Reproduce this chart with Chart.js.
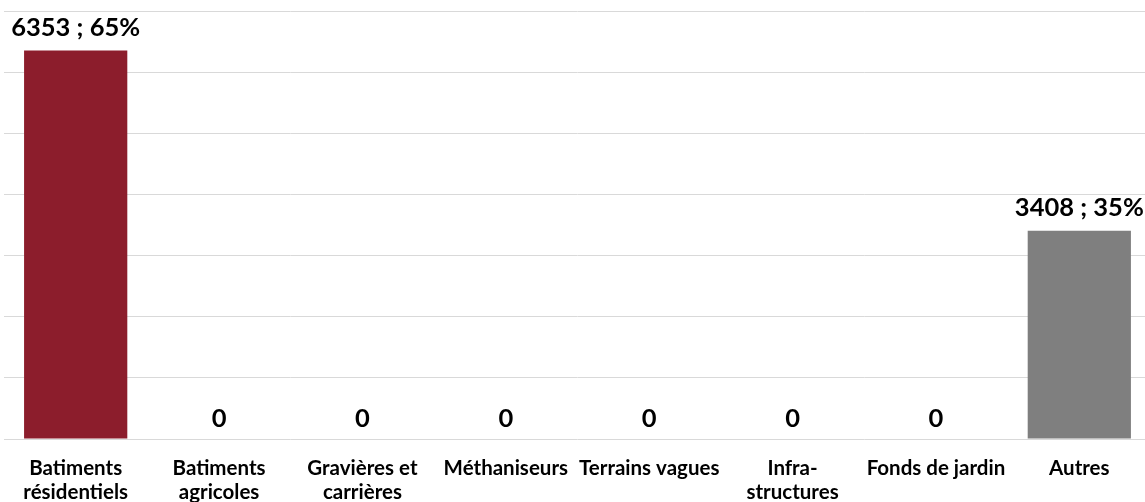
<!DOCTYPE html>
<html>
<head>
<meta charset="utf-8">
<script src="https://cdn.jsdelivr.net/npm/chart.js@4"></script>
<style>
  html, body { margin: 0; padding: 0; background: #fff; overflow: hidden; }
  #wrap { width: 1152px; height: 502px; position: relative; }
</style>
</head>
<body>
<div id="wrap"><canvas id="chart"></canvas></div>
<script>
const categories = [
  ['Batiments', 'résidentiels'],
  ['Batiments', 'agricoles'],
  ['Gravières et', 'carrières'],
  'Méthaniseurs',
  'Terrains vagues',
  ['Infra-', 'structures'],
  'Fonds de jardin',
  'Autres'
];
const values = [6353, 0, 0, 0, 0, 0, 0, 3408];
const barColors = ['#8c1d2c', '#8c1d2c', '#8c1d2c', '#8c1d2c', '#8c1d2c', '#8c1d2c', '#8c1d2c', '#7f7f7f'];

const total = values.reduce((a, b) => a + b, 0);

// draws "value ; pct%" above each bar
const valueLabels = {
  id: 'valueLabels',
  afterDatasetsDraw(chart) {
    const ctx = chart.ctx;
    const meta = chart.getDatasetMeta(0);
    ctx.save();
    ctx.font = 'bold 25.5px Lato';
    ctx.fillStyle = '#000';
    ctx.textAlign = 'center';
    ctx.textBaseline = 'alphabetic';
    meta.data.forEach((bar, i) => {
      const v = values[i];
      const txt = v ? v + ' ; ' + Math.round(v / total * 100) + '%' : '0';
      ctx.fillText(txt, bar.x, bar.y - (v ? 15 : 12));
    });
    ctx.restore();
  }
};

new Chart(document.getElementById('chart'), {
  type: 'bar',
  data: {
    labels: categories,
    datasets: [{
      data: values,
      backgroundColor: barColors,
      categoryPercentage: 1,
      barPercentage: 0.72
    }]
  },
  options: {
    responsive: true,
    maintainAspectRatio: false,
    animation: false,
    layout: { padding: { top: 11, left: 4, right: 1, bottom: 0 } },
    plugins: { legend: { display: false }, tooltip: { enabled: false } },
    scales: {
      x: {
        grid: { display: false, drawTicks: false },
        border: { display: false },
        ticks: {
          color: '#000',
          font: { family: 'Lato', size: 20.5, weight: 'bold', lineHeight: 1.17 },
          padding: 17,
          maxRotation: 0,
          autoSkip: false
        },
        afterFit: (scale) => { scale.height = 63; }
      },
      y: {
        min: 0,
        max: 7000,
        ticks: { display: false, stepSize: 1000 },
        grid: { color: '#d9d9d9', drawTicks: false, lineWidth: 1 },
        border: { display: false },
        afterFit: (scale) => { scale.width = 0; }
      }
    }
  },
  plugins: [valueLabels]
});
</script>
</body>
</html>
